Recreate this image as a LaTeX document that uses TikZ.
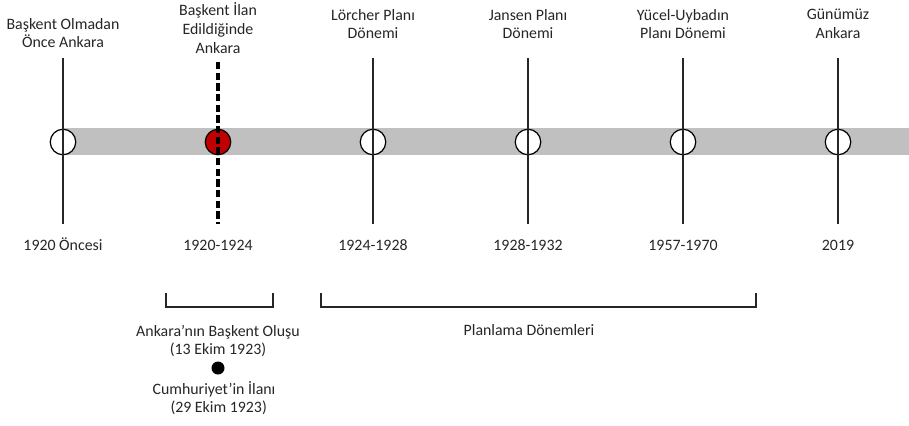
\documentclass[tikz,border=0pt]{standalone}
\usepackage{fontspec}
\setmainfont{Carlito}
\definecolor{bandgray}{RGB}{192,192,192}
\definecolor{darkred}{RGB}{192,0,0}
\definecolor{txt}{RGB}{38,38,38}
\begin{document}
\begin{tikzpicture}[x=0.75pt,y=-0.75pt,
  lbl/.style={font=\fontsize{11.9}{14}\selectfont, text=txt, align=center, inner sep=0pt},
  ring/.style={circle, draw=black, line width=0.9pt, fill=white, minimum size=25.5*0.75pt, inner sep=0pt},
  redring/.style={ring, fill=darkred},
  vline/.style={draw=black!85, line width=0.8pt},
  dline/.style={draw=black, line width=2.4pt, dash pattern=on 5.5pt off 2.5pt},
  brk/.style={draw=black!85, line width=0.9pt},
  yr/.style={lbl, anchor=base}]
\useasboundingbox (0,0) rectangle (909,425);
% gray band
\fill[bandgray] (63,128) rectangle (909,155);
% circles
\node[ring] (c1) at (63,142) {};
\node[redring] (c2) at (218,142) {};
\node[ring] (c3) at (373,142) {};
\node[ring] (c4) at (528,142) {};
\node[ring] (c5) at (683,142) {};
\node[ring] (c6) at (838,142) {};
% line ends
\coordinate (a1) at (63,58);  \coordinate (b1) at (63,224);
\coordinate (a2) at (218,62); \coordinate (b2) at (218,224);
\coordinate (a3) at (373,58); \coordinate (b3) at (373,224);
\coordinate (a4) at (528,58); \coordinate (b4) at (528,224);
\coordinate (a5) at (683,58); \coordinate (b5) at (683,224);
\coordinate (a6) at (838,58); \coordinate (b6) at (838,224);
\draw[vline] (a1) -- (b1);
\draw[dline] (a2) -- (b2);
\draw[vline] (a3) -- (b3);
\draw[vline] (a4) -- (b4);
\draw[vline] (a5) -- (b5);
\draw[vline] (a6) -- (b6);
% top labels
\node[lbl] (t1) at (63,33) {Başkent Olmadan\\Önce Ankara};
\node[lbl] (t2) at (218,28) {Başkent İlan\\Edildiğinde\\Ankara};
\node[lbl] (t3) at (373,24) {Lörcher Planı\\Dönemi};
\node[lbl] (t4) at (528,24) {Jansen Planı\\Dönemi};
\node[lbl] (t5) at (683,24) {Yücel-Uybadın\\Planı Dönemi};
\node[lbl] (t6) at (838,24) {Günümüz\\Ankara};
% year labels
\node[yr] (y1) at (63,250) {1920 Öncesi};
\node[yr] (y2) at (218,250) {1920-1924};
\node[yr] (y3) at (373,250) {1924-1928};
\node[yr] (y4) at (528,250) {1928-1932};
\node[yr] (y5) at (683,250) {1957-1970};
\node[yr] (y6) at (838,250) {2019};
% brackets
\coordinate (k1) at (166,293); \coordinate (k2) at (273,293);
\coordinate (k3) at (321,293); \coordinate (k4) at (756,293);
\draw[brk] (k1) -- ++(0,14) -| (k2);
\draw[brk] (k3) -- ++(0,14) -| (k4);
% bottom texts
\node[lbl] (e1) at (218,341) {Ankara’nın Başkent Oluşu\\(13 Ekim 1923)};
\node[circle, fill=black, minimum size=13*0.75pt, inner sep=0pt] (dot) at (218,368) {};
\node[lbl] (e2) at (214,398) {Cumhuriyet’in İlanı\\\hspace*{7pt}(29 Ekim 1923)};
\node[lbl] (p) at (529,330) {Planlama Dönemleri};
\end{tikzpicture}
\end{document}
